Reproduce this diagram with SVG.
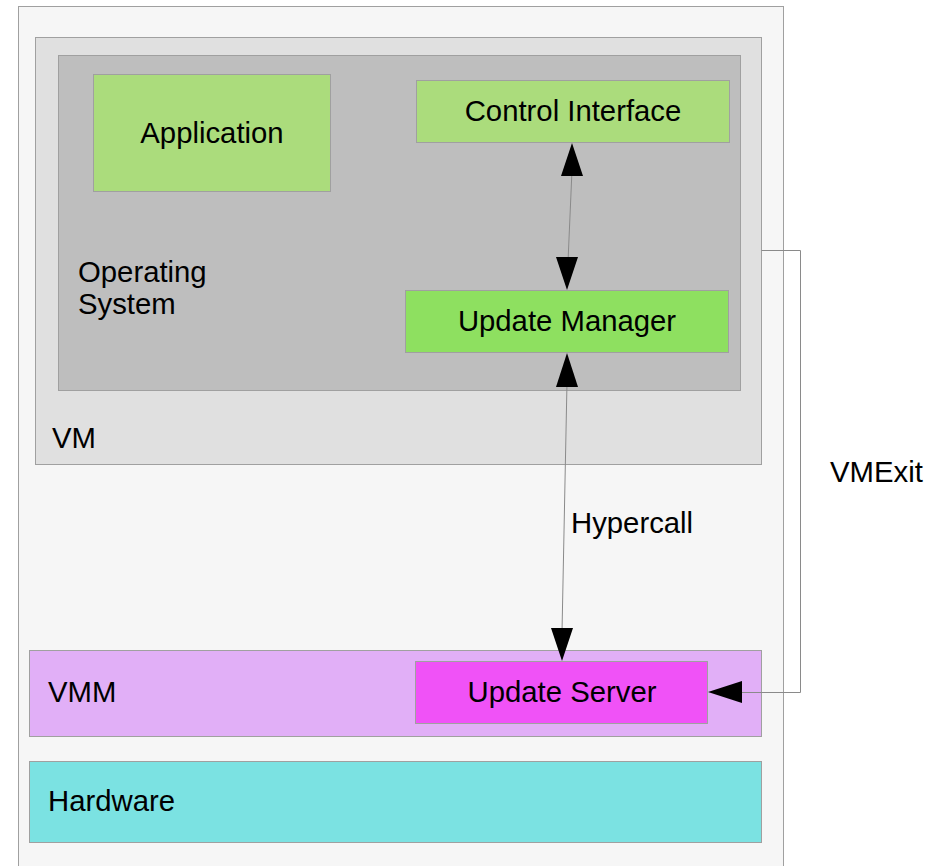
<svg xmlns="http://www.w3.org/2000/svg" width="927" height="866" viewBox="0 0 927 866">
  <style>
    .box { stroke: #a0a0a0; stroke-width: 1; }
    .lbl { font-family: "Liberation Sans", Arial, sans-serif; font-size: 29.3px; fill: #000; }
    .mid { text-anchor: middle; }
    .wire { fill: none; stroke: #8a8a8a; stroke-width: 1; }
    .head { fill: #000; }
  </style>
  <rect width="927" height="866" fill="#ffffff"/>

  <g id="host">
    <rect class="box" x="18.5" y="6.5" width="765" height="880" fill="#f6f6f6"/>
  </g>

  <g id="vm">
    <rect class="box" x="35.5" y="37.5" width="726" height="427" fill="#e0e0e0"/>
    <text class="lbl" x="52" y="448">VM</text>
  </g>

  <g id="os">
    <rect class="box" x="58.5" y="55.5" width="682" height="335" fill="#bebebe"/>
    <text class="lbl" x="78" y="282">Operating</text>
    <text class="lbl" x="78" y="314">System</text>
  </g>

  <g id="application">
    <rect class="box" x="93.5" y="74.5" width="237" height="117" fill="#abdc7c" stroke="#8aa870"/>
    <text class="lbl mid" x="212" y="143">Application</text>
  </g>

  <g id="control-interface">
    <rect class="box" x="416.5" y="80.5" width="313" height="62" fill="#abdc7c" stroke="#8aa870"/>
    <text class="lbl mid" x="573" y="121">Control Interface</text>
  </g>

  <g id="update-manager">
    <rect class="box" x="405.5" y="290.5" width="323" height="62" fill="#8ee060" stroke="#7aa860"/>
    <text class="lbl mid" x="567" y="331">Update Manager</text>
  </g>

  <g id="vmm">
    <rect class="box" x="29.5" y="650.5" width="732" height="86" fill="#e1aff7" stroke="#b090c0"/>
    <text class="lbl" x="48" y="702">VMM</text>
  </g>

  <g id="update-server">
    <rect class="box" x="415.5" y="661.5" width="292" height="62" fill="#f052f7" stroke="#b050b8"/>
    <text class="lbl mid" x="562" y="702">Update Server</text>
  </g>

  <g id="hardware">
    <rect class="box" x="29.5" y="761.5" width="732" height="81" fill="#7be2e2" stroke="#70b0b0"/>
    <text class="lbl" x="48" y="811">Hardware</text>
  </g>

  <g id="connectors">
    <!-- Control Interface <-> Update Manager -->
    <line class="wire" x1="572" y1="170" x2="568" y2="262"/>
    <polygon class="head" points="572,143 561,176 583,176"/>
    <polygon class="head" points="567,290 556,257 578,257"/>

    <!-- Update Manager <-> Update Server (hypercall) -->
    <line class="wire" x1="567" y1="382" x2="562" y2="632"/>
    <polygon class="head" points="567,353 556,387 578,387"/>
    <polygon class="head" points="562,661 551,628 573,628"/>
    <text class="lbl" x="571" y="533">Hypercall</text>

    <!-- VM exit path into Update Server -->
    <polyline class="wire" points="761.5,250.5 800.5,250.5 800.5,692.5 740,692.5"/>
    <polygon class="head" points="708,692 742,681 742,703"/>
    <text class="lbl" x="830" y="482">VMExit</text>
  </g>
</svg>
